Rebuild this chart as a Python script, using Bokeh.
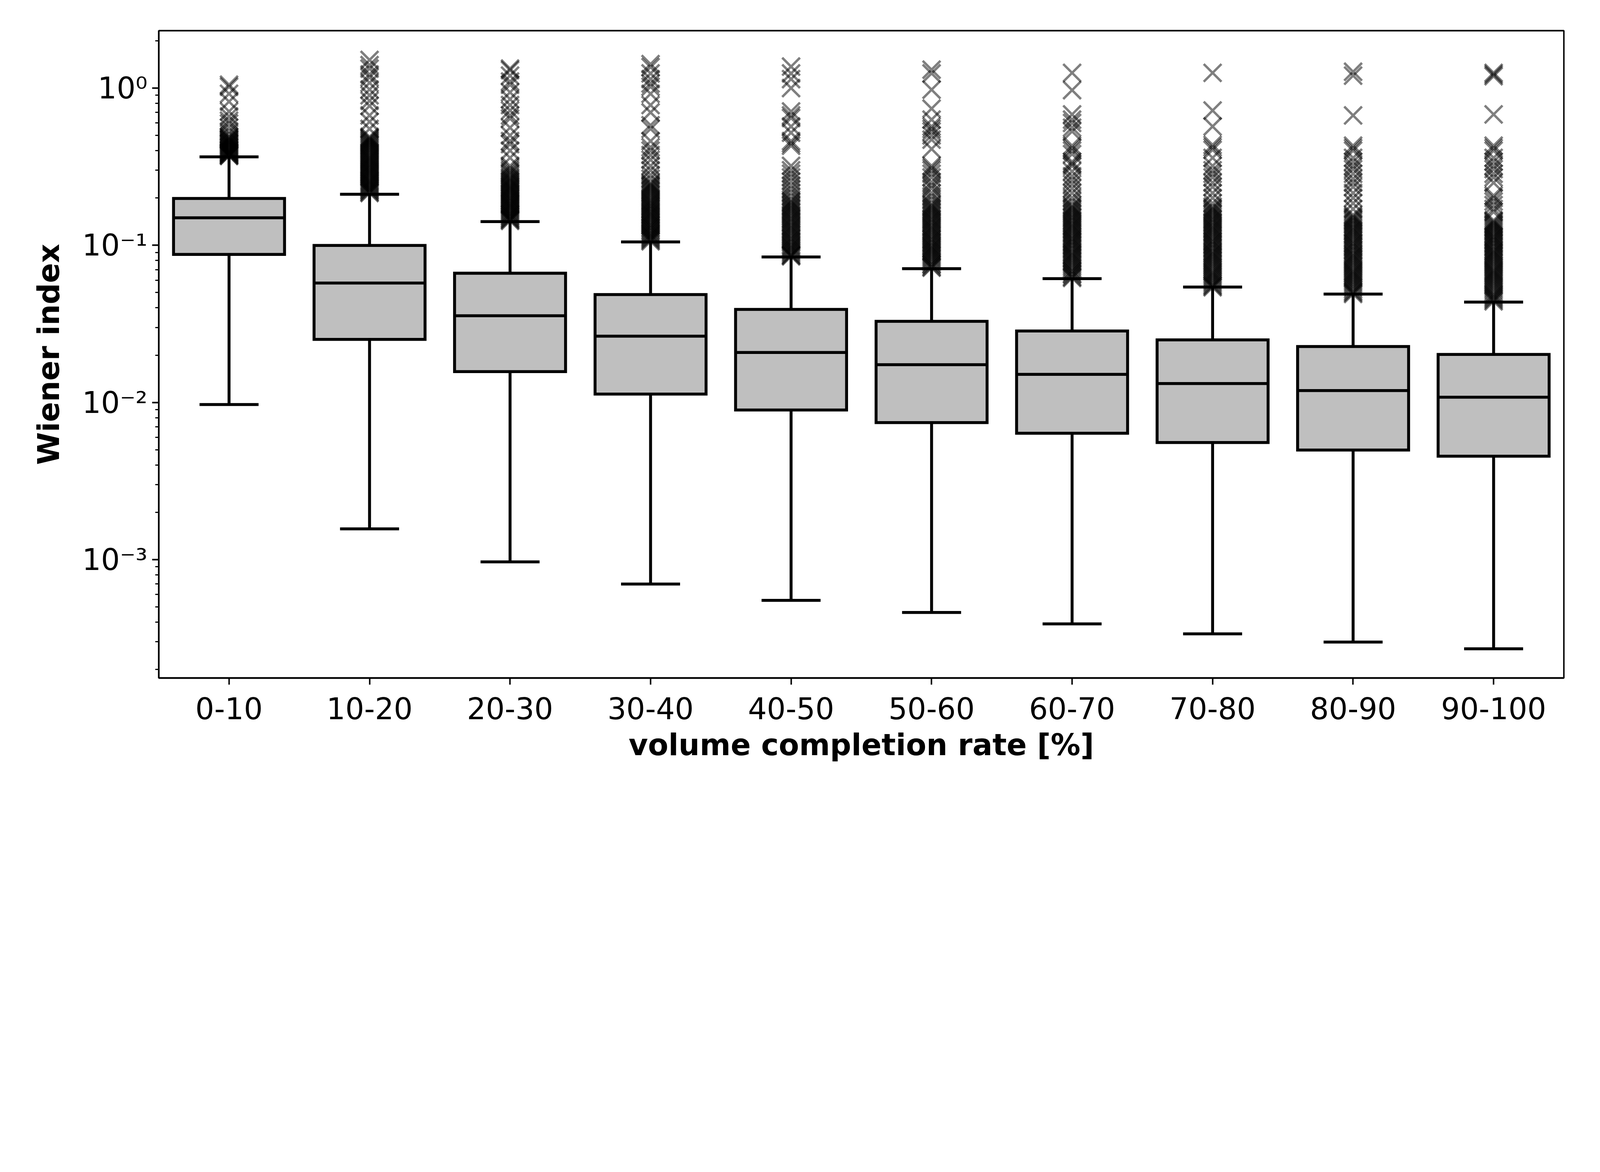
from bokeh.plotting import figure
from bokeh.models import ColumnDataSource, FactorRange, Range1d, FixedTicker, CustomJSTickFormatter
from bokeh.transform import dodge
from bokeh.embed import file_html
from bokeh.resources import INLINE

categories = ["0-10", "10-20", "20-30", "30-40", "40-50", "50-60", "60-70", "70-80", "80-90", "90-100"]
q3 = [0.1986, 0.0997, 0.0664, 0.0486, 0.0391, 0.0328, 0.0285, 0.0250, 0.0227, 0.0202]
median = [0.1496, 0.0575, 0.0356, 0.0264, 0.0208, 0.0174, 0.0151, 0.0132, 0.0119, 0.0108]
q1 = [0.0875, 0.0252, 0.0157, 0.0113, 0.00895, 0.00744, 0.00637, 0.00556, 0.00498, 0.00455]
whisker_high = [0.365, 0.211, 0.1415, 0.105, 0.0843, 0.0710, 0.0613, 0.0542, 0.0489, 0.0435]
whisker_low = [0.0097, 0.00157, 0.000968, 0.000699, 0.000551, 0.000461, 0.00039, 0.000337, 0.000299, 0.000271]

out_0_10 = [1.05, 1.02, 0.92, 0.82, 0.71, 0.66, 0.62, 0.595, 0.56, 0.53, 0.51, 0.49, 0.478, 0.466,
            0.455, 0.445, 0.435, 0.425, 0.415, 0.405, 0.397, 0.39, 0.383, 0.376, 0.37,
            0.372, 0.379, 0.386, 0.393, 0.401, 0.41, 0.42, 0.43, 0.44, 0.45, 0.46, 0.472, 0.484]
out_10_20 = [1.51, 1.40, 1.33, 1.22, 1.17, 1.08, 0.98, 0.90, 0.83, 0.77, 0.67, 0.61, 0.55, 0.49, 0.475,
             0.46, 0.445, 0.43, 0.415, 0.40, 0.385, 0.37, 0.357, 0.345, 0.333, 0.322, 0.311, 0.30,
             0.29, 0.28, 0.27, 0.26, 0.252, 0.244, 0.236, 0.229, 0.222, 0.215,
             0.218, 0.225, 0.232, 0.24, 0.248, 0.256, 0.265, 0.275, 0.285, 0.295, 0.305, 0.316,
             0.327, 0.339, 0.351, 0.363, 0.377, 0.392, 0.407, 0.422, 0.437, 0.452, 0.467, 0.482]
out_20_30 = [1.33, 1.30, 1.20, 1.10, 1.05, 0.94, 0.85, 0.78, 0.72, 0.67, 0.64, 0.56, 0.50, 0.46, 0.44,
             0.40, 0.36, 0.32, 0.30, 0.285, 0.27, 0.26, 0.25, 0.24, 0.232, 0.224, 0.216, 0.208, 0.20,
             0.193, 0.186, 0.18, 0.174, 0.168, 0.162, 0.157, 0.152, 0.147, 0.143,
             0.145, 0.149, 0.154, 0.159, 0.165, 0.171, 0.177, 0.183, 0.19, 0.197, 0.204, 0.212,
             0.22, 0.228, 0.236, 0.245, 0.255, 0.265, 0.278, 0.292, 0.31]
out_30_40 = [1.42, 1.36, 1.24, 1.14, 1.07, 1.02, 0.92, 0.78, 0.70, 0.58, 0.55, 0.46, 0.42, 0.40, 0.375,
             0.35, 0.32, 0.30, 0.28, 0.265, 0.25, 0.24, 0.23, 0.22, 0.21, 0.2, 0.191, 0.183, 0.176,
             0.169, 0.162, 0.156, 0.15, 0.144, 0.138, 0.133, 0.128, 0.123, 0.118, 0.114, 0.11, 0.106,
             0.108, 0.112, 0.116, 0.12, 0.125, 0.13, 0.135, 0.141, 0.147, 0.153, 0.159, 0.165,
             0.172, 0.179, 0.187, 0.195, 0.205, 0.215, 0.225, 0.235, 0.245]
out_40_50 = [1.37, 1.24, 1.14, 1.0, 0.71, 0.67, 0.645, 0.57, 0.52, 0.46, 0.445, 0.43, 0.32, 0.30, 0.285,
             0.27, 0.255, 0.24, 0.228, 0.216, 0.205, 0.195, 0.186, 0.177, 0.169, 0.161, 0.153, 0.146,
             0.139, 0.132, 0.126, 0.12, 0.114, 0.109, 0.104, 0.099, 0.095, 0.091, 0.087, 0.085,
             0.086, 0.089, 0.093, 0.097, 0.101, 0.106, 0.111, 0.117, 0.123, 0.129, 0.135, 0.142,
             0.149, 0.157, 0.165, 0.173, 0.181, 0.19]
out_50_60 = [1.31, 1.24, 0.977, 0.74, 0.63, 0.57, 0.55, 0.53, 0.50, 0.47, 0.41, 0.32, 0.31, 0.30, 0.285,
             0.27, 0.252, 0.24, 0.23, 0.215, 0.205, 0.195, 0.185, 0.176, 0.168, 0.16, 0.152, 0.145,
             0.138, 0.131, 0.125, 0.119, 0.113, 0.108, 0.103, 0.098, 0.094, 0.09, 0.086, 0.082, 0.078,
             0.075, 0.072,
             0.073, 0.076, 0.08, 0.084, 0.088, 0.092, 0.096, 0.1, 0.105, 0.11, 0.116, 0.122, 0.128,
             0.134, 0.141, 0.148, 0.156, 0.164, 0.172, 0.18]
out_60_70 = [1.25, 0.97, 0.68, 0.63, 0.60, 0.56, 0.53, 0.43, 0.415, 0.40, 0.38, 0.34, 0.33, 0.32, 0.295,
             0.275, 0.26, 0.245, 0.23, 0.215, 0.2, 0.19, 0.18, 0.172, 0.164, 0.156, 0.149, 0.142, 0.135,
             0.129, 0.123, 0.117, 0.111, 0.106, 0.101, 0.096, 0.091, 0.087, 0.083, 0.079, 0.075, 0.071,
             0.068, 0.065, 0.062,
             0.063, 0.066, 0.069, 0.073, 0.077, 0.081, 0.085, 0.089, 0.094, 0.099, 0.104, 0.109,
             0.114, 0.12, 0.126, 0.132, 0.138, 0.145, 0.152, 0.16, 0.168, 0.176]
out_70_80 = [1.25, 0.72, 0.57, 0.435, 0.42, 0.405, 0.36, 0.32, 0.30, 0.285, 0.27, 0.25, 0.235, 0.215,
             0.2, 0.185, 0.176, 0.168, 0.16, 0.152, 0.145, 0.138, 0.131, 0.125, 0.119, 0.113, 0.107,
             0.102, 0.097, 0.092, 0.088, 0.084, 0.08, 0.076, 0.072, 0.068, 0.065, 0.062, 0.059, 0.056,
             0.054,
             0.055, 0.0575, 0.0605, 0.0635, 0.0665, 0.07, 0.074, 0.078, 0.082, 0.086, 0.09, 0.095,
             0.1, 0.105, 0.11, 0.116, 0.122, 0.128, 0.134, 0.141, 0.148, 0.156, 0.164, 0.172]
out_80_90 = [1.27, 1.20, 0.67, 0.43, 0.415, 0.40, 0.36, 0.34, 0.32, 0.305, 0.285, 0.265, 0.25, 0.235,
             0.215, 0.2, 0.185, 0.17, 0.156, 0.149, 0.142, 0.135, 0.128, 0.122, 0.116, 0.11, 0.104,
             0.099, 0.094, 0.089, 0.085, 0.081, 0.077, 0.073, 0.069, 0.066, 0.063, 0.06, 0.057, 0.054,
             0.051, 0.049,
             0.05, 0.0525, 0.0555, 0.0585, 0.0615, 0.0645, 0.0675, 0.071, 0.075, 0.079, 0.083,
             0.087, 0.092, 0.097, 0.102, 0.107, 0.113, 0.119, 0.125, 0.131, 0.138, 0.145, 0.152]
out_90_100 = [1.25, 1.22, 1.19, 0.68, 0.43, 0.415, 0.40, 0.36, 0.34, 0.32, 0.305, 0.285, 0.27, 0.25,
              0.207, 0.2, 0.19, 0.18, 0.17, 0.163, 0.144, 0.138, 0.132, 0.126, 0.12, 0.114, 0.109,
              0.104, 0.099, 0.094, 0.09, 0.086, 0.082, 0.078, 0.074, 0.07, 0.067, 0.064, 0.061, 0.058,
              0.055, 0.052, 0.049, 0.047, 0.045, 0.044,
              0.046, 0.048, 0.0505, 0.0535, 0.0565, 0.0595, 0.0625, 0.0655, 0.0685, 0.072, 0.076,
              0.08, 0.084, 0.088, 0.092, 0.097, 0.102, 0.107, 0.112, 0.117, 0.123, 0.129, 0.135, 0.141]

outliers = [out_0_10, out_10_20, out_20_30, out_30_40, out_40_50,
            out_50_60, out_60_70, out_70_80, out_80_90, out_90_100]

y_lo, y_hi = 1.766e-4, 2.319

box_src = ColumnDataSource(dict(cat=categories, q1=q1, q3=q3, med=median,
                                lo=whisker_low, hi=whisker_high))
out_cat, out_val = [], []
for c, vals in zip(categories, outliers):
    out_cat += [c] * len(vals)
    out_val += vals
out_src = ColumnDataSource(dict(cat=out_cat, val=out_val))

# the browser viewport is about 4096 CSS px wide; sizes below are the
# reference's pixel sizes (6000 px wide) converted to that width
D = 1.465
def px(v):
    return v / D

W, H = 4066, 2028
frame_left = px(607) - 8
frame_right = px(5876) - 8
frame_top = px(126) - 8
frame_bottom = px(2554) - 8

p = figure(width=W, height=H, output_backend="svg", toolbar_location=None,
           x_range=FactorRange(*categories, range_padding=0),
           y_range=Range1d(y_lo, y_hi), y_axis_type="log",
           min_border_left=int(round(frame_left)), min_border_right=int(round(W - frame_right)),
           min_border_top=int(round(frame_top)), min_border_bottom=int(round(H - frame_bottom)))
p.background_fill_color = "white"
p.border_fill_color = "white"
p.xgrid.visible = False
p.ygrid.visible = False
p.outline_line_color = "black"
p.outline_line_width = px(5.5)

LW = px(11)
# whiskers
p.segment(x0="cat", y0="q3", x1="cat", y1="hi", source=box_src, line_color="black", line_width=LW)
p.segment(x0="cat", y0="q1", x1="cat", y1="lo", source=box_src, line_color="black", line_width=LW)
# boxes
p.vbar(x="cat", width=0.79, bottom="q1", top="q3", source=box_src, fill_color="#bfbfbf",
       line_color="black", line_width=LW, line_join="miter")
# medians
p.segment(x0=dodge("cat", -0.395, range=p.x_range), y0="med",
          x1=dodge("cat", 0.395, range=p.x_range), y1="med",
          source=box_src, line_color="black", line_width=LW)
# caps
for col in ("hi", "lo"):
    p.segment(x0=dodge("cat", -0.21, range=p.x_range), y0=col,
              x1=dodge("cat", 0.21, range=p.x_range), y1=col,
              source=box_src, line_color="black", line_width=LW)
# outliers
p.scatter(x="cat", y="val", source=out_src, marker="x", size=px(94), line_color="black",
          line_alpha=0.5, line_width=px(9))

FONT = "DejaVu Sans"
minor = [m * 10.0 ** e for e in range(-4, 1) for m in range(2, 10) if y_lo <= m * 10.0 ** e <= y_hi]
p.yaxis.ticker = FixedTicker(ticks=[1e-3, 1e-2, 1e-1, 1.0], minor_ticks=minor)
p.yaxis.formatter = CustomJSTickFormatter(code="""
const sup = {"-": "\u207b", "0": "\u2070", "1": "\u00b9", "2": "\u00b2", "3": "\u00b3"};
const e = Math.round(Math.log10(tick));
return "10" + String(e).split("").map(c => sup[c]).join("");
""")

FS = "%dpx" % round(px(111))
for ax in (p.xaxis, p.yaxis):
    ax.axis_line_width = px(5.5)
    ax.axis_line_color = "black"
    ax.major_tick_line_width = px(5.5)
    ax.major_tick_in = 0
    ax.major_tick_out = int(round(px(25)))
    ax.minor_tick_line_width = px(4.5)
    ax.minor_tick_in = 0
    ax.minor_tick_out = int(round(px(13)))
    ax.major_label_text_font = FONT
    ax.major_label_text_font_size = FS
    ax.major_label_text_color = "black"
    ax.axis_label_text_font = FONT
    ax.axis_label_text_font_size = FS
    ax.axis_label_text_font_style = "bold"
    ax.axis_label_text_color = "black"

p.xaxis.axis_label = "volume completion rate [%]"
p.yaxis.axis_label = "Wiener index"
p.xaxis.major_label_standoff = 32
p.yaxis.major_label_standoff = 12
p.xaxis.axis_label_standoff = 18
p.yaxis.axis_label_standoff = 38

open("out.html", "w").write(file_html(p, INLINE))
